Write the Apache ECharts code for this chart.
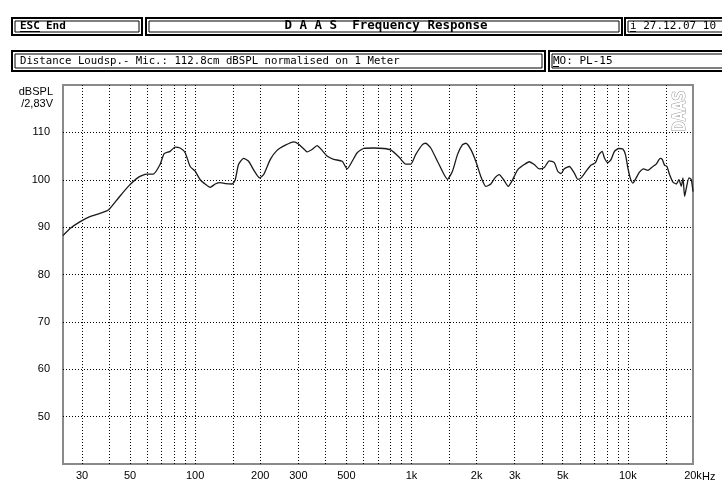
<!DOCTYPE html>
<html>
<head>
<meta charset="utf-8">
<title>DAAS Frequency Response</title>
<script src="https://cdn.jsdelivr.net/npm/echarts@6/dist/echarts.min.js"></script>
<style>
	html, body { margin: 0; padding: 0; background: #fff; }
	#chart { width: 722px; height: 481px; }
</style>
</head>
<body>
<div id="chart"></div>
<script>
// curve: frequency (Hz) and level (dBSPL)
const freqs = [
	24.5, 26.4, 29.3, 32.6, 36.3, 39.7, 44.1, 49.1, 54.6, 59.7,
	64.1, 68.8, 71.9, 76.6, 80.8, 85.2, 89.9, 94.8, 100, 105.5,
	111.2, 117.4, 123.8, 130.5, 137.7, 147.9, 153.2, 158.7, 167.4, 176.6,
	186.3, 198.6, 207.3, 222.6, 239, 261.2, 285.5, 301, 323, 329,
	347, 366, 386, 407, 437, 478, 504, 532, 561, 602,
	670, 745, 801, 875, 940, 991, 1045, 1123, 1163, 1227,
	1318, 1414, 1466, 1546, 1631, 1720, 1782, 1879, 1982, 2091,
	2206, 2326, 2428, 2542, 2665, 2799, 2933, 3094, 3319, 3501,
	3693, 3895, 4108, 4334, 4571, 4740, 4909, 5085, 5364, 5656,
	5866, 6076, 6410, 6761, 7079, 7341, 7603, 7793, 8080, 8369,
	8669, 9085, 9481, 9748, 10000, 10250, 10550, 10926, 11315, 11811,
	12378, 13055, 13523, 14112, 14416, 14772, 15157, 15582, 16159, 16738,
	17227, 17653, 17976, 18286, 18622, 19164, 19640, 20000
];
const levels = [
	88.2, 89.7, 91.1, 92.2, 92.9, 93.6, 96.1, 98.6, 100.5, 101.2,
	101.2, 103.2, 105.5, 106.0, 106.9, 106.7, 105.7, 102.8, 101.8, 100.0,
	99.1, 98.4, 99.1, 99.4, 99.2, 99.1, 100.0, 103.2, 104.5, 103.9,
	102.1, 100.4, 101.1, 104.3, 106.2, 107.3, 108.0, 107.5, 106.2, 105.9,
	106.4, 107.2, 106.2, 105.0, 104.3, 103.9, 102.3, 103.9, 105.7, 106.6,
	106.7, 106.6, 106.3, 104.8, 103.3, 103.3, 105.3, 107.4, 107.7, 106.7,
	103.9, 101.1, 100.1, 101.8, 105.3, 107.4, 107.7, 106.4, 103.9, 100.7,
	98.6, 99.1, 100.4, 101.1, 100.0, 98.6, 100.0, 102.1, 103.2, 103.8,
	103.2, 102.3, 102.6, 104.0, 103.6, 101.8, 101.3, 102.3, 102.8, 101.4,
	100.1, 100.4, 101.8, 103.1, 103.6, 105.3, 106.0, 104.6, 103.6, 104.3,
	106.0, 106.6, 106.5, 105.3, 102.5, 100.4, 99.3, 100.4, 101.6, 102.3,
	102.0, 102.8, 103.3, 104.5, 104.3, 103.1, 102.8, 101.1, 99.5, 99.1,
	100.0, 98.6, 100.4, 96.5, 98.2, 100.4, 100.0, 97.5
];

// vertical dotted grid lines and the labelled frequencies
const freqGrid = [30, 40, 50, 60, 70, 80, 90, 100, 150, 200, 300, 400, 500, 600, 700, 800, 900,
	1000, 1500, 2000, 3000, 4000, 5000, 6000, 7000, 8000, 9000, 10000, 15000];
const freqLabels = [30, 50, 100, 200, 300, 500, 1000, 2000, 3000, 5000, 10000, 20000];

const MONO = '"DejaVu Sans Mono", "Liberation Mono", monospace';
const SANS = '"Liberation Sans", Arial, sans-serif';

window.onload = function () {
	const chart = echarts.init(document.getElementById('chart'), null, { renderer: 'canvas' });
	chart.setOption({
		animation: false,
		backgroundColor: '#fff',
		grid: {
			show: true,
			left: 63,
			right: 29,
			top: 85,
			bottom: 16,
			borderColor: '#8a8a8a',
			borderWidth: 2
		},
		xAxis: {
			type: 'log',
			logBase: 10,
			min: 24.5,
			max: 20000,
			axisLine: { show: false },
			axisTick: { show: false, customValues: freqGrid },
			axisLabel: {
				customValues: freqLabels,
				margin: 6,
				color: '#000',
				fontSize: 11,
				fontFamily: SANS,
				formatter: v => v >= 1000 ? (v / 1000) + 'k' : String(v)
			},
			splitLine: {
				show: true,
				lineStyle: { color: '#000', width: 1, type: [1, 2] }
			}
		},
		yAxis: {
			type: 'value',
			min: 40,
			max: 120,
			interval: 10,
			axisLine: { show: false },
			axisTick: { show: false },
			axisLabel: {
				showMinLabel: false,
				showMaxLabel: false,
				margin: 13,
				color: '#000',
				fontSize: 11,
				fontFamily: SANS
			},
			splitLine: {
				show: true,
				showMinLine: false,
				showMaxLine: false,
				lineStyle: { color: '#000', width: 1, type: [1, 2] }
			}
		},
		series: [{
			type: 'line',
			data: freqs.map((f, i) => [f, levels[i]]),
			showSymbol: false,
			smooth: 0.2,
			lineStyle: { color: '#1a1a1a', width: 1.3 }
		}],
		graphic: buildHeader()
	});
}

/**
 * header boxes, axis captions and watermark
 */
function buildHeader() {
	const els = [];
	// double framed boxes
	const boxes = [
		[12, 18, 130, 17],
		[146, 18, 476, 17],
		[625, 18, 110, 17],
		[12, 51, 533, 20],
		[549, 51, 190, 20]
	];
	boxes.forEach(b => {
		els.push({
			type: 'rect', silent: true,
			shape: { x: b[0], y: b[1], width: b[2], height: b[3] },
			style: { fill: 'none', stroke: '#000', lineWidth: 2 }
		});
		els.push({
			type: 'rect', silent: true,
			shape: { x: b[0] + 3, y: b[1] + 3, width: b[2] - 6, height: b[3] - 6 },
			style: { fill: 'none', stroke: '#000', lineWidth: 1 }
		});
	});
	const text = (t, x, y, font, align) => ({
		type: 'text', silent: true,
		style: { text: t, x: x, y: y, fill: '#000', font: font, align: align || 'left', verticalAlign: 'middle' }
	});
	const underline = (x1, x2, y) => ({
		type: 'line', silent: true,
		shape: { x1: x1, y1: y, x2: x2, y2: y },
		style: { stroke: '#000', lineWidth: 1 }
	});
	els.push(text('ESC', 20, 26, 'bold 11px ' + MONO));
	els.push(underline(20, 40, 31.5));
	els.push(text('End', 46, 26, 'bold 11px ' + MONO));
	els.push(text('D A A S  Frequency Response', 386, 26, 'bold 12.5px ' + MONO, 'center'));
	els.push(text('i 27.12.07 10 0', 630, 26, '11px ' + MONO));
	els.push(underline(630, 636, 31.5));
	els.push(text('Distance Loudsp.- Mic.: 112.8cm dBSPL normalised on 1 Meter', 20, 61, '10.7px ' + MONO));
	els.push(text('MO: PL-15', 553, 61, '11px ' + MONO));
	els.push(underline(553, 559, 66.5));

	// y axis caption
	els.push(text('dBSPL', 53, 92, '11px ' + SANS, 'right'));
	els.push(text('/2,83V', 53, 104, '11px ' + SANS, 'right'));
	// unit after the last frequency label
	els.push(text('Hz', 702, 477, '11px ' + SANS));

	// DAAS watermark, reads bottom to top
	els.push({
		type: 'text', silent: true,
		x: 681, y: 111, rotation: Math.PI / 2,
		style: {
			text: 'DAAS', x: 0, y: 0, align: 'center', verticalAlign: 'middle',
			font: 'bold 17px ' + MONO, fill: '#fff', stroke: '#999', lineWidth: 1
		}
	});
	return els;
}
</script>
</body>
</html>
